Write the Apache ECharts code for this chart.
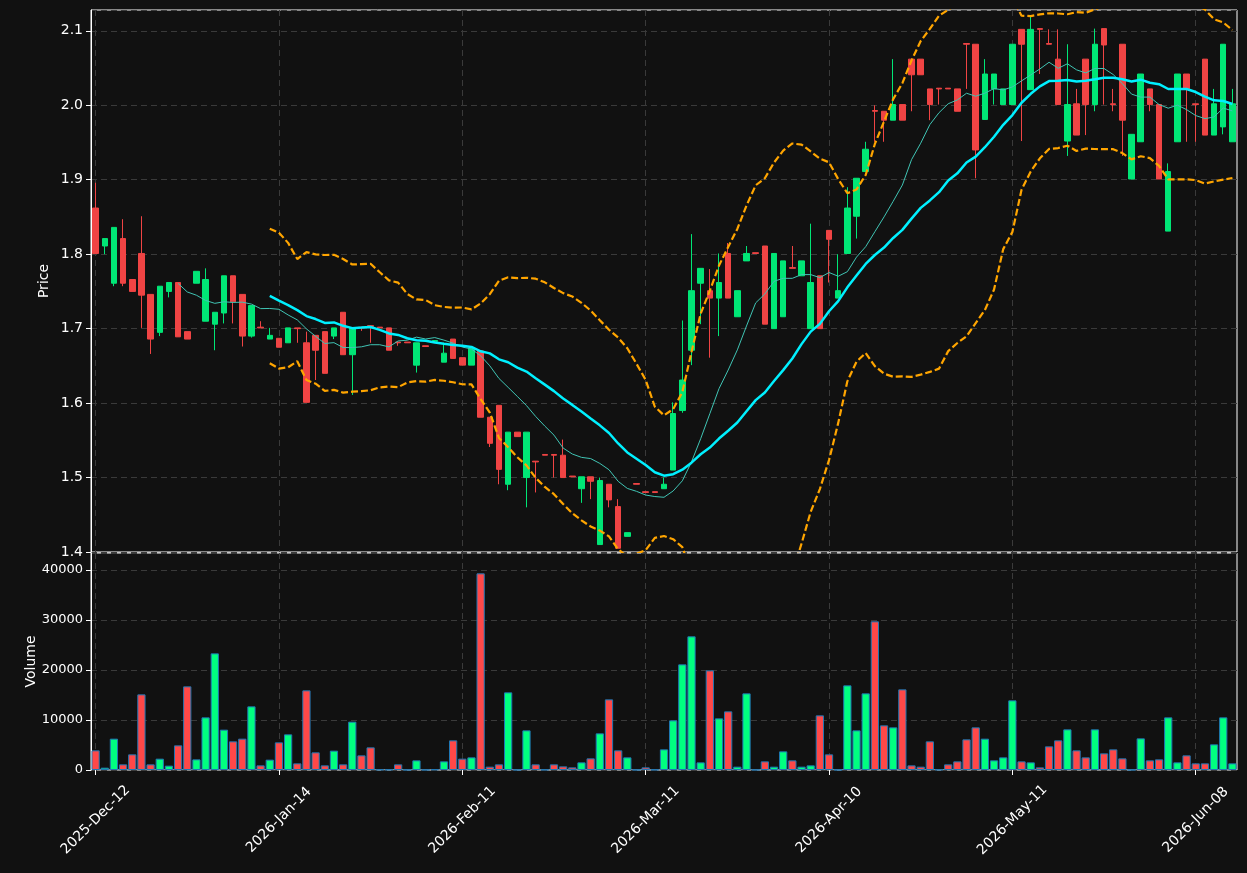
<!DOCTYPE html>
<html>
<head>
<meta charset="utf-8">
<script src="https://cdn.jsdelivr.net/npm/echarts@6/dist/echarts.min.js"></script>
<style>
  html, body { margin: 0; padding: 0; background: #111111; }
  #chart { width: 1247px; height: 873px; }
</style>
</head>
<body>
<div id="chart"></div>
<script>
// bar dates: business days from 2025-12-12, skipping these holidays
const startDate = '2025-12-12'
const barCount = 125
const holidays = ['2025-12-25', '2025-12-26', '2026-01-01', '2026-04-03', '2026-04-06', '2026-05-04']

const opens = [
  1.862, 1.811, 1.761, 1.821, 1.766, 1.801, 1.746, 1.695, 1.750, 1.762,
  1.696, 1.761, 1.710, 1.706, 1.721, 1.771, 1.746, 1.690, 1.702, 1.686,
  1.687, 1.681, 1.701, 1.681, 1.691, 1.696, 1.690, 1.722, 1.665, 1.702,
  1.704, 1.702, 1.701, 1.682, 1.682, 1.651, 1.677, 1.683, 1.655, 1.686,
  1.661, 1.651, 1.670, 1.581, 1.597, 1.491, 1.561, 1.500, 1.522, 1.531,
  1.531, 1.530, 1.502, 1.485, 1.501, 1.410, 1.491, 1.461, 1.421, 1.492,
  1.481, 1.481, 1.485, 1.510, 1.590, 1.671, 1.761, 1.751, 1.741, 1.801,
  1.716, 1.791, 1.802, 1.811, 1.700, 1.716, 1.782, 1.771, 1.700, 1.771,
  1.832, 1.741, 1.801, 1.851, 1.911, 1.993, 1.992, 1.980, 2.001, 2.062,
  2.062, 2.022, 2.023, 2.023, 2.022, 2.083, 2.082, 1.981, 2.022, 2.001,
  2.001, 2.102, 2.021, 2.103, 2.083, 2.062, 1.952, 2.002, 2.062, 2.001,
  2.103, 2.002, 2.082, 1.901, 1.951, 2.022, 2.001, 1.831, 1.951, 2.042,
  2.002, 2.062, 1.960, 1.971, 1.951
]
const closes = [
  1.801, 1.821, 1.836, 1.761, 1.750, 1.745, 1.686, 1.757, 1.762, 1.689,
  1.686, 1.777, 1.766, 1.722, 1.771, 1.736, 1.690, 1.731, 1.701, 1.691,
  1.675, 1.701, 1.700, 1.601, 1.671, 1.640, 1.701, 1.665, 1.701, 1.701,
  1.703, 1.701, 1.671, 1.681, 1.681, 1.681, 1.676, 1.684, 1.667, 1.660,
  1.651, 1.674, 1.581, 1.546, 1.511, 1.561, 1.555, 1.561, 1.521, 1.530,
  1.530, 1.500, 1.501, 1.501, 1.495, 1.496, 1.470, 1.405, 1.426, 1.491,
  1.480, 1.480, 1.491, 1.586, 1.631, 1.751, 1.781, 1.741, 1.762, 1.741,
  1.751, 1.801, 1.801, 1.706, 1.801, 1.791, 1.781, 1.791, 1.762, 1.700,
  1.820, 1.751, 1.862, 1.902, 1.941, 1.992, 1.980, 2.001, 1.980, 2.041,
  2.041, 2.001, 2.022, 2.022, 1.992, 2.082, 1.940, 2.042, 2.042, 2.022,
  2.082, 2.082, 2.102, 2.102, 2.082, 2.001, 2.001, 1.960, 2.001, 2.082,
  2.081, 2.001, 1.980, 1.961, 2.042, 2.001, 1.901, 1.911, 2.042, 2.022,
  2.001, 1.960, 2.002, 2.082, 2.002
]
const lows = [
  1.801, 1.800, 1.757, 1.757, 1.750, 1.701, 1.666, 1.690, 1.742, 1.689,
  1.686, 1.761, 1.710, 1.671, 1.707, 1.707, 1.676, 1.688, 1.701, 1.686,
  1.675, 1.681, 1.681, 1.601, 1.631, 1.640, 1.686, 1.665, 1.611, 1.697,
  1.681, 1.701, 1.671, 1.677, 1.681, 1.641, 1.676, 1.683, 1.655, 1.660,
  1.651, 1.651, 1.581, 1.541, 1.491, 1.483, 1.555, 1.460, 1.480, 1.530,
  1.500, 1.500, 1.501, 1.466, 1.471, 1.410, 1.460, 1.405, 1.421, 1.491,
  1.480, 1.480, 1.485, 1.510, 1.587, 1.651, 1.706, 1.661, 1.690, 1.741,
  1.716, 1.791, 1.801, 1.706, 1.700, 1.716, 1.781, 1.771, 1.700, 1.700,
  1.762, 1.741, 1.801, 1.821, 1.911, 1.951, 1.951, 1.980, 1.980, 1.992,
  2.041, 1.980, 2.001, 2.022, 1.992, 2.022, 1.902, 1.981, 2.001, 2.001,
  2.001, 1.952, 2.021, 2.042, 2.082, 2.001, 1.932, 1.960, 1.960, 1.992,
  2.001, 1.992, 1.932, 1.901, 1.951, 1.992, 1.901, 1.831, 1.951, 1.951,
  1.951, 1.960, 1.960, 1.961, 1.951
]
const highs = [
  1.896, 1.821, 1.836, 1.847, 1.766, 1.851, 1.746, 1.757, 1.762, 1.762,
  1.696, 1.777, 1.781, 1.722, 1.771, 1.771, 1.746, 1.731, 1.710, 1.701,
  1.687, 1.701, 1.701, 1.696, 1.691, 1.696, 1.701, 1.722, 1.701, 1.702,
  1.704, 1.702, 1.701, 1.682, 1.682, 1.681, 1.677, 1.684, 1.681, 1.686,
  1.661, 1.674, 1.670, 1.581, 1.597, 1.561, 1.561, 1.561, 1.522, 1.531,
  1.531, 1.551, 1.502, 1.501, 1.501, 1.500, 1.491, 1.471, 1.426, 1.492,
  1.481, 1.481, 1.500, 1.601, 1.711, 1.827, 1.781, 1.780, 1.801, 1.815,
  1.751, 1.811, 1.802, 1.811, 1.801, 1.791, 1.811, 1.791, 1.841, 1.771,
  1.832, 1.800, 1.890, 1.902, 1.951, 2.000, 1.992, 2.062, 2.001, 2.062,
  2.062, 2.022, 2.023, 2.023, 2.022, 2.083, 2.082, 2.062, 2.042, 2.022,
  2.082, 2.102, 2.120, 2.103, 2.102, 2.102, 2.082, 2.022, 2.062, 2.103,
  2.103, 2.022, 2.082, 1.961, 2.042, 2.022, 2.001, 1.922, 2.042, 2.042,
  2.002, 2.062, 2.022, 2.082, 2.022
]
const volumes = [
  3930, 470, 6270, 1130, 3130, 15130, 1130, 2270, 870, 4930,
  16730, 2130, 10530, 23330, 8070, 5730, 6270, 12730, 930, 2070,
  5530, 7130, 1330, 15930, 3530, 930, 3870, 1130, 9670, 2930,
  4530, 100, 100, 1130, 50, 1930, 50, 130, 1730, 5930,
  2270, 2530, 39330, 670, 1130, 15530, 50, 7930, 1130, 80,
  1130, 730, 530, 1530, 2330, 7330, 14130, 3930, 2530, 50,
  530, 80, 4130, 9930, 21130, 26730, 1530, 19930, 10330, 11730,
  670, 15330, 50, 1730, 670, 3730, 1930, 670, 930, 10930,
  3130, 50, 16930, 7930, 15330, 29730, 8930, 8530, 16130, 930,
  670, 5730, 100, 1130, 1730, 6130, 8530, 6270, 1930, 2530,
  13930, 1730, 1530, 530, 4730, 5930, 8130, 3930, 2530, 8130,
  3330, 4130, 2330, 50, 6330, 1930, 2130, 10530, 1530, 2930,
  1330, 1330, 5130, 10530, 1330
]
const priceTicks = [1.4, 1.5, 1.6, 1.7, 1.8, 1.9, 2.0, 2.1]
const volumeTicks = [0, 10000, 20000, 30000, 40000]
const labelEvery = 20

const UP = '#00e676'
const DOWN = '#f04444'
const VOL_UP = '#00ff80'
const VOL_DOWN = '#ff4848'
const GRID_LINE = { color: '#3a3a3a', type: [6, 4], width: 1 }
const FONT = 'DejaVu Sans'

// 生成交易日
const months = ['Jan', 'Feb', 'Mar', 'Apr', 'May', 'Jun', 'Jul', 'Aug', 'Sep', 'Oct', 'Nov', 'Dec']
const makeDates = () => {
  const out = []
  const d = new Date(startDate + 'T00:00:00Z')
  while (out.length < barCount) {
    const iso = d.toISOString().slice(0, 10)
    const wd = d.getUTCDay()
    if (wd !== 0 && wd !== 6 && !holidays.includes(iso)) {
      out.push(d.getUTCFullYear() + '-' + months[d.getUTCMonth()] + '-' + String(d.getUTCDate()).padStart(2, '0'))
    }
    d.setUTCDate(d.getUTCDate() + 1)
  }
  return out
}
const dates = makeDates()

// rolling indicators from the closes (same as the original plot's mav / bands)
const rollingMean = (n) => closes.map((_, i) => {
  if (i < n - 1) return null
  let s = 0
  for (let k = i - n + 1; k <= i; k++) s += closes[k]
  return +(s / n).toFixed(4)
})
const rollingBand = (n, mult, sign) => closes.map((_, i) => {
  if (i < n - 1) return null
  let s = 0
  for (let k = i - n + 1; k <= i; k++) s += closes[k]
  const m = s / n
  let v = 0
  for (let k = i - n + 1; k <= i; k++) v += (closes[k] - m) ** 2
  const sd = Math.sqrt(v / (n - 1))
  return +(m + sign * mult * sd).toFixed(4)
})

const ma10 = rollingMean(10)
const ma20 = rollingMean(20)
const bbUpper = rollingBand(20, 2, 1)
const bbLower = rollingBand(20, 2, -1)

const candles = opens.map((o, i) => [o, closes[i], lows[i], highs[i]])
const volBars = volumes.map((v, i) => ({
  value: v,
  itemStyle: { color: closes[i] >= opens[i] ? VOL_UP : VOL_DOWN }
}))

const showEvery = (idx) => idx % labelEvery === 0

const xAxisBase = (gridIndex, withLabels) => ({
  type: 'category',
  gridIndex,
  data: dates,
  boundaryGap: true,
  axisLine: { show: false },
  axisTick: {
    show: withLabels,
    alignWithLabel: true,
    interval: (idx) => showEvery(idx),
    length: 5,
    lineStyle: { color: '#ffffff', width: 1 }
  },
  axisLabel: {
    show: withLabels,
    interval: (idx) => showEvery(idx),
    rotate: 45,
    align: 'center',
    verticalAlign: 'middle',
    color: '#ffffff',
    fontSize: 14,
    fontFamily: FONT,
    margin: 50
  },
  splitLine: {
    show: true,
    alignWithLabel: true,
    interval: (idx) => showEvery(idx),
    lineStyle: GRID_LINE
  }
})

const yAxisBase = (gridIndex, min, max, interval, name, gap, labelSize, fmt) => ({
  type: 'value',
  gridIndex,
  min,
  max,
  interval,
  name,
  nameLocation: 'middle',
  nameGap: gap,
  nameMoveOverlap: false,
  nameTextStyle: { color: '#ffffff', fontSize: 14, fontFamily: FONT },
  axisLine: { show: true, lineStyle: { color: '#ffffff', width: 1 } },
  axisTick: { show: true, length: 5, lineStyle: { color: '#ffffff', width: 1 } },
  axisLabel: {
    color: '#ffffff',
    fontSize: labelSize,
    fontFamily: FONT,
    margin: 8,
    showMaxLabel: false,
    formatter: fmt
  },
  splitLine: { show: true, lineStyle: GRID_LINE }
})

const option = {
  animation: false,
  backgroundColor: '#111111',
  grid: [
    { left: 91, right: 10, top: 10, height: 542, show: true, borderColor: '#ffffff', borderWidth: 1, backgroundColor: 'transparent' },
    { left: 91, right: 10, top: 553, height: 217, show: true, borderColor: '#ffffff', borderWidth: 1, backgroundColor: 'transparent' }
  ],
  xAxis: [xAxisBase(0, false), xAxisBase(1, true)],
  yAxis: [
    yAxisBase(0, priceTicks[0], 2.128, 0.1, 'Price', 40, 14, (v) => v.toFixed(1)),
    yAxisBase(1, volumeTicks[0], 43400, 10000, 'Volume', 53, 13, (v) => String(Math.round(v)))
  ],
  series: [
    {
      type: 'candlestick',
      xAxisIndex: 0,
      yAxisIndex: 0,
      data: candles,
      barWidth: 6,
      itemStyle: {
        color: UP,
        color0: DOWN,
        borderColor: UP,
        borderColor0: DOWN,
        borderWidth: 1
      }
    },
    {
      type: 'line',
      xAxisIndex: 0,
      yAxisIndex: 0,
      data: ma10,
      showSymbol: false,
      lineStyle: { color: '#40c4b4', width: 1 },
      z: 3
    },
    {
      type: 'line',
      xAxisIndex: 0,
      yAxisIndex: 0,
      data: ma20,
      showSymbol: false,
      lineStyle: { color: '#00f0ff', width: 2.5 },
      z: 3
    },
    {
      type: 'line',
      xAxisIndex: 0,
      yAxisIndex: 0,
      data: bbUpper,
      showSymbol: false,
      clip: true,
      lineStyle: { color: '#ffa500', width: 2.2, type: [7, 3] },
      z: 3
    },
    {
      type: 'line',
      xAxisIndex: 0,
      yAxisIndex: 0,
      data: bbLower,
      showSymbol: false,
      clip: true,
      lineStyle: { color: '#ffa500', width: 2.2, type: [7, 3] },
      z: 3
    },
    {
      type: 'bar',
      xAxisIndex: 1,
      yAxisIndex: 1,
      data: volBars,
      barWidth: '90%',
      itemStyle: { borderColor: '#1f77b4', borderWidth: 1 }
    }
  ]
}

const chart = echarts.init(document.getElementById('chart'))
chart.setOption(option)
window.addEventListener('resize', () => chart.resize())
</script>
</body>
</html>
